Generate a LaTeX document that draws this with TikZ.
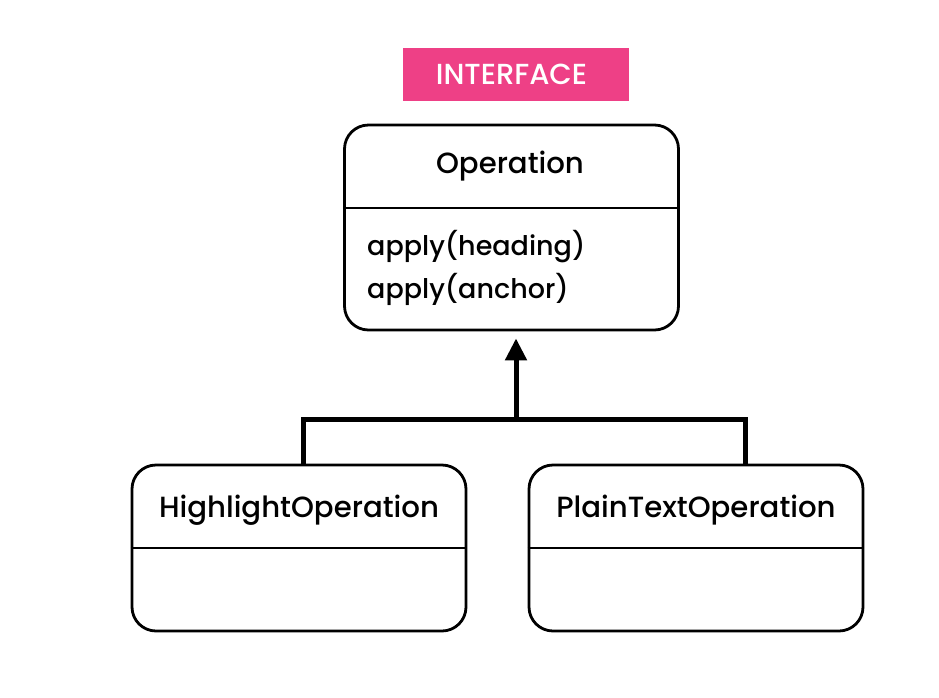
\documentclass[tikz,border=0pt]{standalone}
\usepackage{fontspec}
\setmainfont{Poppins}[UprightFont=* Medium]
\usetikzlibrary{arrows.meta}
\usepackage{xcolor}
\definecolor{tagpink}{RGB}{238,64,134}

\begin{document}
\begin{tikzpicture}[x=1pt,y=-1pt]
	\tikzset{classbox/.style = {draw,line width=2.8pt,rounded corners=24pt,minimum width=334pt}}
	\tikzset{title/.style = {anchor=base,font=\fontsize{29.2}{32}\selectfont}}
	\tikzset{member/.style = {anchor=base west,inner sep=0pt,font=\fontsize{27}{32}\selectfont}}
	\tikzset{link/.style = {line width=5pt}}
	\useasboundingbox (0,0) rectangle (939,697);
	\node[fill=tagpink,minimum width=226pt,minimum height=53pt,inner sep=0pt] (tag) at (515.5,74.5) {};
	\node[anchor=base,text=white,font=\fontsize{29}{32}\selectfont] (tagtext) at (511.5,84) {INTERFACE};
	\node[classbox,minimum height=205pt] (op) at (511.5,227.5) {};
	\node[classbox,minimum height=166pt] (hl) at (299,548) {};
	\node[classbox,minimum height=166pt] (pt) at (696,548) {};
	%texts
	\node[title] (optitle) at (510,173) {Operation};
	\node[member] (m1) at (367,255) {apply(heading)};
	\node[member] (m2) at (367,298) {apply(anchor)};
	\node[title] (hltitle) at (299,517) {HighlightOperation};
	\node[title] (pttitle) at (696,517) {PlainTextOperation};
	%dividers
	\draw[line width=2.8pt] (op.west |- 0,208) -- (op.east |- 0,208);
	\draw[line width=2.8pt] (hl.west |- 0,548) -- (hl.east |- 0,548);
	\draw[line width=2.8pt] (pt.west |- 0,548) -- (pt.east |- 0,548);
	%edges
	\coordinate (j) at (516,419);
	\draw[link] ([xshift=4pt]hl.north) |- (j) -| ([xshift=49pt]pt.north);
	\draw[link,-{Triangle[width=21pt,length=22pt]}] (j) -- ([yshift=-7pt]j |- op.south);
\end{tikzpicture}
\end{document}
